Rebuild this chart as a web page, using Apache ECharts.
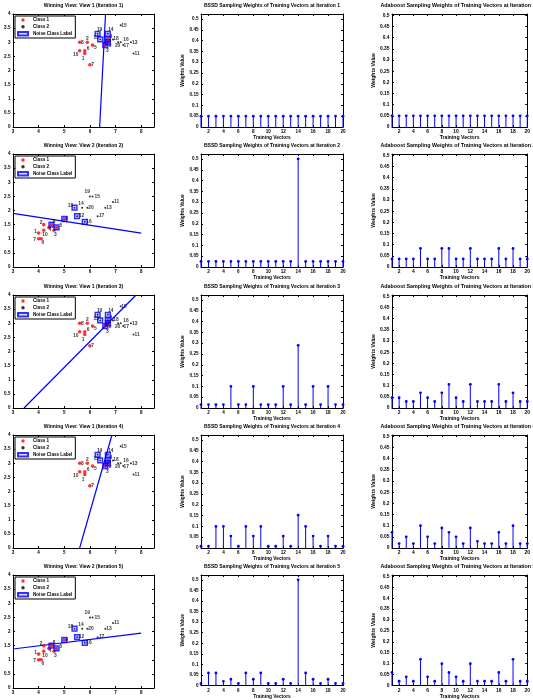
<!DOCTYPE html>
<html><head><meta charset="utf-8">
<script src="https://cdn.jsdelivr.net/npm/echarts@6/dist/echarts.min.js"></script>
<style>html,body{margin:0;padding:0;background:#fff;overflow:hidden}#c{width:533px;height:700px}</style>
</head><body><div id="c"></div>
<script>
// ---------------- DATA ----------------
const pointIds = [1,2,3,4,5,6,7,8,9,10,11,12,13,14,15,16,17,18,19,20];
const pointClass = [1,1,1,1,1,1,1,1,1,1,2,2,2,2,2,2,2,2,2,2];
// View 1 features
const view1X = [5.8,5.9,6.6,6.7,6.1,5.8,6.0,5.6,6.7,5.6,7.7,6.4,7.6,6.7,7.2,7.2,7.3,6.9,6.3,7.1];
const view1Y = [2.6,3.0,2.9,3.1,2.9,2.7,2.2,3.0,3.0,2.7,2.6,3.1,3.0,3.3,3.6,3.0,2.9,3.1,3.3,3.0];
// View 2 features
const view2X = [4.0,4.2,4.6,4.4,4.7,4.1,4.0,4.5,5.0,4.2,6.9,5.5,6.6,5.7,6.1,5.8,6.3,5.4,6.0,5.9];
const view2Y = [1.2,1.5,1.3,1.4,1.4,1.0,1.0,1.5,1.7,1.3,2.3,1.8,2.1,2.1,2.5,1.6,1.8,2.1,2.5,2.1];
const noiseView1 = [3,4,9,12,14,19];
const noiseView2 = [5,8,9,12,16,18];
const iterationView = [1,2,1,1,2];
const boundaryX = [[6.38,6.61],[3,8],[3.43,7.8],[5.6,6.86],[3,8]];
const boundaryY = [[0,4],[1.9,1.2],[0,4],[0,4],[1.38,1.94]];
const vectorIds = [1,2,3,4,5,6,7,8,9,10,11,12,13,14,15,16,17,18,19,20];
const bssdIter1 = [0.05,0.05,0.05,0.05,0.05,0.05,0.05,0.05,0.05,0.05,0.05,0.05,0.05,0.05,0.05,0.05,0.05,0.05,0.05,0.05];
const bssdIter2 = [0.026,0.026,0.026,0.026,0.026,0.026,0.026,0.026,0.026,0.026,0.026,0.026,0.026,0.5,0.026,0.026,0.026,0.026,0.026,0.026];
const bssdIter3 = [0.016,0.016,0.016,0.016,0.1,0.016,0.016,0.1,0.016,0.016,0.016,0.1,0.016,0.29,0.016,0.1,0.016,0.1,0.016,0.016];
const bssdIter4 = [0.008,0.008,0.1,0.1,0.055,0.008,0.1,0.055,0.1,0.008,0.008,0.055,0.008,0.152,0.1,0.055,0.008,0.055,0.008,0.008];
const bssdIter5 = [0.01,0.06,0.06,0.02,0.03,0.01,0.06,0.03,0.06,0.01,0.01,0.03,0.01,0.5,0.06,0.03,0.01,0.03,0.01,0.01];
const adaIter1 = [0.05,0.05,0.05,0.05,0.05,0.05,0.05,0.05,0.05,0.05,0.05,0.05,0.05,0.05,0.05,0.05,0.05,0.05,0.05,0.05];
const adaIter2 = [0.036,0.036,0.036,0.036,0.083,0.036,0.036,0.083,0.083,0.036,0.036,0.083,0.036,0.036,0.036,0.083,0.036,0.083,0.036,0.036];
const adaIter3 = [0.046,0.046,0.029,0.029,0.068,0.046,0.029,0.068,0.106,0.046,0.029,0.106,0.029,0.029,0.029,0.106,0.029,0.068,0.029,0.029];
const adaIter4 = [0.07,0.02,0.05,0.02,0.10,0.05,0.02,0.09,0.07,0.05,0.02,0.09,0.03,0.02,0.02,0.07,0.02,0.10,0.02,0.02];
const adaIter5 = [0.06,0.02,0.04,0.02,0.12,0.04,0.02,0.10,0.06,0.04,0.02,0.10,0.02,0.02,0.02,0.06,0.02,0.12,0.02,0.02];
const scatterXTicks = [3,4,5,6,7,8];
const scatterYTicks = [0,0.5,1,1.5,2,2.5,3,3.5,4];
const stemXTicks = [2,4,6,8,10,12,14,16,18,20];
const stemYTicks = [0,0.05,0.1,0.15,0.2,0.25,0.3,0.35,0.4,0.45,0.5];
const legendNames = ['Class 1','Class 2','Noise Class Label'];

// ---------------- STYLE (label offsets in px) ----------------
const labelOff1 = {1:[-1.7,5],2:[0,-4],3:[2,5.5],4:[3,-3],5:[3,3],6:[3.3,-2.3],7:[2.7,0],8:[2.7,0],9:[2.3,3.3],10:[-4,4],
  11:[3.7,0],12:[-4,-1.7],13:[3.7,0],14:[3,-4.3],15:[3.3,0],16:[5.3,-2.3],17:[3,0.5],18:[3,-1],19:[2,-4.3],20:[-0.5,3.5]};
const labelOff2 = {1:[-3,-1.5],2:[-2.7,-2],3:[1.3,4.3],4:[1.3,2.7],5:[4.3,-1.3],6:[1.7,4.3],7:[-4,1.3],8:[2.7,-2.7],9:[2.7,0],10:[1.3,4.3],
  11:[3.7,0],12:[4.3,0],13:[3.7,0],14:[-1.3,-4],15:[4.7,0],16:[4.3,0],17:[4,0],18:[-4,-1.7],19:[-2.7,-4.7],20:[3.7,0]};

const FONT = 'Liberation Sans';
const colLeft = [13, 201, 392], colWidth = [141, 142, 150];
const colYMax = [4, 0.523, 0.506];
const colScale = [1, 1, 1.07];
const titleCenter = [83.5, 272, 458];
const rowTop = [14, 154, 295, 435, 575], H = 113;
const BLUE = '#0000ff';

const grid = [], xAxis = [], yAxis = [], series = [], title = [], legend = [];

function addAxes(gi, xr, xt, yr, yt, xname, yname, s) {
  const lbl = {fontFamily: FONT, fontWeight: 'bold', fontSize: 4.6 * s, color: '#000'};
  const axCommon = {axisLine:{show:true,onZero:false,lineStyle:{color:'#000',width:1}}, splitLine:{show:false}};
  xAxis.push(Object.assign({type:'value', gridIndex:gi, position:'bottom', min:xr[0], max:xr[1],
    axisTick:{inside:true,length:2,customValues:xt,lineStyle:{color:'#000'}},
    axisLabel:Object.assign({customValues:xt, margin:2.5, formatter:v=>String(v)}, lbl),
    name:xname||'', nameLocation:'middle', nameGap:7.5, nameTextStyle:Object.assign({}, lbl, {fontSize:4.8 * s})}, axCommon));
  xAxis.push(Object.assign({type:'value', gridIndex:gi, position:'top', min:xr[0], max:xr[1],
    axisTick:{inside:true,length:2,customValues:xt,lineStyle:{color:'#000'}}, axisLabel:{show:false}}, axCommon));
  yAxis.push(Object.assign({type:'value', gridIndex:gi, position:'left', min:yr[0], max:yr[1],
    axisTick:{inside:true,length:2,customValues:yt,lineStyle:{color:'#000'}},
    axisLabel:Object.assign({customValues:yt, margin:2.5, formatter:v=>String(+v.toFixed(2))}, lbl),
    name:yname||'', nameLocation:'middle', nameGap:(yname?14.5:0), nameRotate:90, nameTextStyle:Object.assign({}, lbl, {fontSize:4.8 * s})}, axCommon));
  yAxis.push(Object.assign({type:'value', gridIndex:gi, position:'right', min:yr[0], max:yr[1],
    axisTick:{inside:true,length:2,customValues:yt,lineStyle:{color:'#000'}}, axisLabel:{show:false}}, axCommon));
}

const bssdAll = [bssdIter1,bssdIter2,bssdIter3,bssdIter4,bssdIter5];
const adaAll = [adaIter1,adaIter2,adaIter3,adaIter4,adaIter5];

let gi = 0;
for (let r = 0; r < 5; r++) {
  for (let c = 0; c < 3; c++) {
    grid.push({left: colLeft[c], top: rowTop[r], width: colWidth[c], height: H, containLabel:false});
    let ttl;
    if (c === 0) {
      ttl = 'Winning View: View ' + iterationView[r] + ' (Iteration ' + (r+1) + ')';
      addAxes(gi, [3, 8.5], scatterXTicks, [0, colYMax[c]], scatterYTicks, '', '', 1);
      const v = iterationView[r];
      const X = v === 1 ? view1X : view2X, Y = v === 1 ? view1Y : view2Y;
      const offs = v === 1 ? labelOff1 : labelOff2;
      const noise = v === 1 ? noiseView1 : noiseView2;
      const mk = (cls) => pointIds.map((id, i) => ({id, i})).filter(o => pointClass[o.i] === cls).map(o => ({
        value: [X[o.i], Y[o.i], o.id],
        label: {show: true, position: 'inside', formatter: String(o.id), offset: offs[o.id], fontFamily: FONT, fontWeight: 'bold', fontSize: 4.9, color: '#000'}
      }));
      series.push({type:'line', xAxisIndex:2*gi, yAxisIndex:2*gi, data: [[boundaryX[r][0], boundaryY[r][0]], [boundaryX[r][1], boundaryY[r][1]]],
        symbol:'none', lineStyle:{color:BLUE, width:1.2}, silent:true, z:2});
      series.push({name:'Class 1', type:'scatter', xAxisIndex:2*gi, yAxisIndex:2*gi, data: mk(1), symbol:'circle', symbolSize:3.6,
        itemStyle:{color:'#ff0000'}, z:3});
      series.push({name:'Class 2', type:'scatter', xAxisIndex:2*gi, yAxisIndex:2*gi, data: mk(2), symbol:'circle', symbolSize:2,
        itemStyle:{color:'#000'}, z:3});
      series.push({name:'Noise Class Label', type:'scatter', xAxisIndex:2*gi, yAxisIndex:2*gi,
        data: noise.map(id => [X[id-1], Y[id-1]]), symbol:'rect', symbolSize:4.8,
        itemStyle:{color:'rgba(0,0,255,0.15)', borderColor:BLUE, borderWidth:1.5}, z:4});
      legend.push({data: legendNames, left: 15, top: rowTop[r] + 2, orient:'vertical', itemWidth: 10, itemHeight: 3.4, itemGap: 1.8,
        padding:[1.5,3,1.5,2], borderColor:'#000', borderWidth:1, backgroundColor:'#fff', borderRadius:0,
        textStyle:{fontFamily:FONT, fontWeight:'bold', fontSize:4.6, color:'#000', lineHeight:4.4}, selectedMode:false, z:10});
    } else {
      const isB = c === 1;
      ttl = (isB ? 'BSSD' : 'Adaboost') + ' Sampling Weights of Training Vectors at Iteration ' + (r+1);
      addAxes(gi, [1, 20], stemXTicks, [0, colYMax[c]], stemYTicks, 'Training Vectors', 'Weights Value', colScale[c]);
      const w = isB ? bssdAll[r] : adaAll[r];
      series.push({type:'custom', xAxisIndex:2*gi, yAxisIndex:2*gi, clip:false,
        data: vectorIds.map((id, i) => [id, w[i]]),
        renderItem: (params, api) => {
          const p0 = api.coord([api.value(0), 0]);
          const p1 = api.coord([api.value(0), api.value(1)]);
          return {type:'group', children:[
            {type:'line', shape:{x1:p0[0], y1:p0[1], x2:p1[0], y2:p1[1]}, style:{stroke:BLUE, lineWidth:1}},
            {type:'circle', shape:{cx:p1[0], cy:p1[1], r:1.4}, style:{fill:BLUE}}
          ]};
        }, z:3});
    }
    title.push({text: ttl, left: titleCenter[c], top: rowTop[r] - 11, textAlign:'center', padding:0,
      textStyle:{fontFamily:FONT, fontWeight:'bold', fontSize:5.0 * colScale[c], color:'#000'}});
    gi++;
  }
}

const chart = echarts.init(document.getElementById('c'), null, {renderer:'canvas'});
chart.setOption({animation:false, backgroundColor:'#fff', title, legend, grid, xAxis, yAxis, series});
</script></body></html>
